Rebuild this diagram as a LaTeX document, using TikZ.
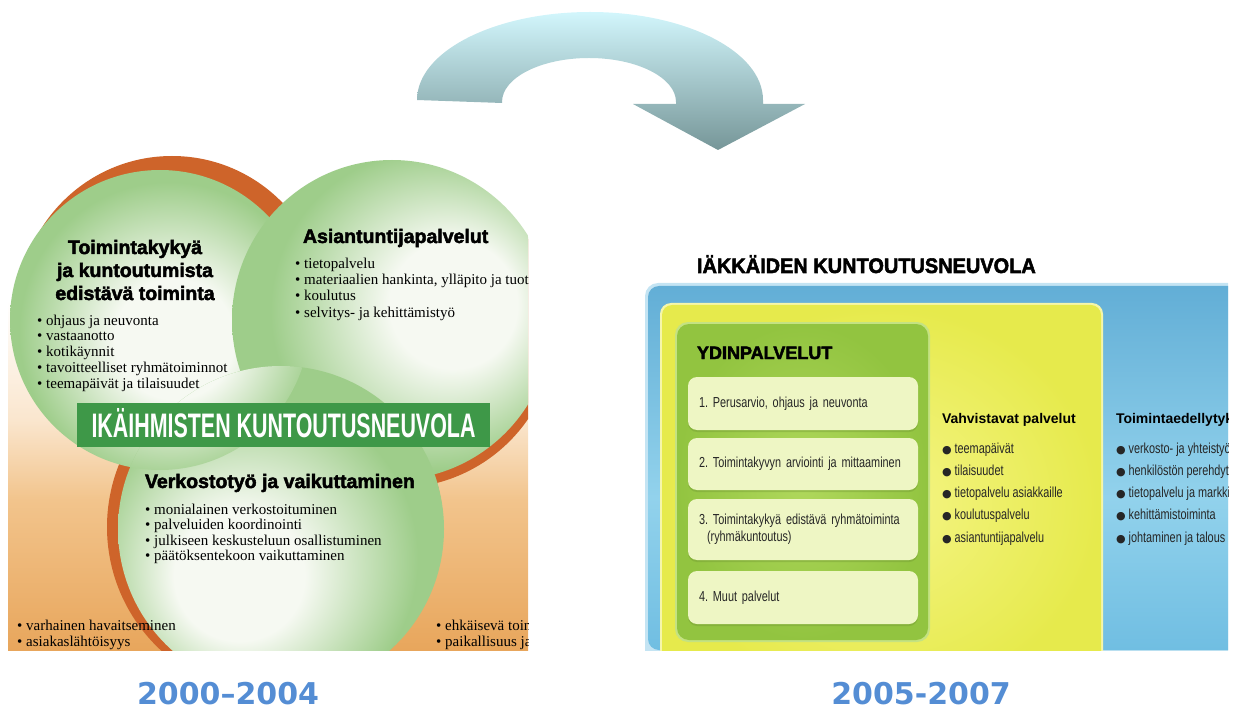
\documentclass[tikz,border=0pt]{standalone}
\usepackage{fontspec}
\setmainfont{Liberation Serif}
\newfontfamily\headsans{Liberation Sans}
\newfontfamily\blacksans[FakeBold=2.4]{Liberation Sans}
\newfontfamily\narrowsans[FakeStretch=0.75]{Liberation Sans}
\newfontfamily\bannersans[FakeStretch=0.63]{Liberation Sans}
\newfontfamily\yearsans{DejaVu Sans}
\usetikzlibrary{positioning}

\definecolor{ringorange}{RGB}{206,100,42}
\definecolor{discgreen}{RGB}{158,205,138}
\definecolor{discpale}{RGB}{246,249,242}
\definecolor{bannergreen}{RGB}{62,152,72}
\definecolor{warmdeep}{RGB}{232,166,92}
\definecolor{warmmid}{RGB}{242,196,140}
\definecolor{warmlight}{RGB}{250,230,206}
\definecolor{arrowtop}{RGB}{210,246,252}
\definecolor{arrowbottom}{RGB}{118,150,152}
\definecolor{yearblue}{RGB}{84,141,212}
\definecolor{panelblueA}{RGB}{98,174,214}
\definecolor{panelblueB}{RGB}{146,210,236}
\definecolor{panelblueC}{RGB}{112,190,226}
\definecolor{panelrim}{RGB}{196,228,243}
\definecolor{yellowedge}{RGB}{230,234,76}
\definecolor{yellowcore}{RGB}{245,245,135}
\definecolor{yellowrim}{RGB}{246,246,170}
\definecolor{coregreen}{RGB}{146,196,64}
\definecolor{coregreenlight}{RGB}{176,216,92}
\definecolor{greenrim}{RGB}{196,226,130}
\definecolor{itempale}{RGB}{238,246,196}

% path box maps onto 25bp..75bp of each shading
\pgfdeclareverticalshading{panelwarm}{100bp}{color(0bp)=(warmdeep); color(25bp)=(warmdeep);
  color(40bp)=(warmmid); color(48bp)=(warmlight); color(60bp)=(white); color(100bp)=(white)}
\pgfdeclareverticalshading{panelblue}{100bp}{color(0bp)=(panelblueC); color(25bp)=(panelblueC);
  color(46bp)=(panelblueB); color(75bp)=(panelblueA); color(100bp)=(panelblueA)}
\pgfdeclareradialshading{discA}{\pgfpoint{3bp}{-4bp}}{color(0bp)=(discpale); color(10bp)=(discpale);
  color(25bp)=(discgreen); color(50bp)=(discgreen)}
\pgfdeclareradialshading{discB}{\pgfpoint{12bp}{3bp}}{color(0bp)=(discpale); color(10bp)=(discpale);
  color(25bp)=(discgreen); color(50bp)=(discgreen)}
\pgfdeclareradialshading{discC}{\pgfpoint{-8bp}{-9bp}}{color(0bp)=(discpale); color(10bp)=(discpale);
  color(25bp)=(discgreen); color(50bp)=(discgreen)}

\newcommand{\listdot}{{\yearsans\fontsize{11}{11}\selectfont ●}\hspace{3pt}}
\newcommand{\narrowtext}{\narrowsans\fontsize{14.5}{17}\selectfont\spaceskip=3pt plus 1pt minus 1pt\relax}

\begin{document}
\frenchspacing
\begin{tikzpicture}[x=1pt,y=-1pt,
    every node/.style={inner sep=0pt,outer sep=0pt},
    disc head/.style={font=\blacksans\bfseries\fontsize{19.5}{22}\selectfont},
    disc item/.style={anchor=base west,font=\fontsize{15}{16}\selectfont},
    core item/.style={fill=itempale,rounded corners=9pt,anchor=north west,
        preaction={fill=coregreen!75!black,opacity=0.35,transform canvas={yshift=-2pt}},
        minimum width=230pt,minimum height=53pt,text width=208pt,inner xsep=11pt,
        align=left,text=black!85,font=\narrowtext},
    side head/.style={anchor=base west,font=\headsans\bfseries\fontsize{14}{16}\selectfont},
    side item/.style={anchor=base west,text=black!85,font=\narrowtext},
    year label/.style={font=\yearsans\bfseries\fontsize{30}{30}\selectfont,text=yearblue}]
\useasboundingbox (0,0) rectangle (1233,708);

% curved arrow on top
\shade[top color=arrowtop,bottom color=arrowbottom]
  (417,100) arc[start angle=180,end angle=360,x radius=173,y radius=88]
  -- (763,104) -- (805,104) -- (718,150) -- (633,104) -- (676,104)
  -- (676,102) arc[start angle=360,end angle=180,x radius=87,y radius=44]
  -- (502,103) -- cycle;

% old model: three discs
\begin{scope}
  \clip (8,150) rectangle (528,650);
  \shade[shading=panelwarm] (8,150) rectangle (528,650);
  \fill[ringorange] (172,310) circle[radius=154];
  \fill[ringorange] (397,329) circle[radius=159];
  \fill[ringorange] (275,527) circle[radius=168];
  \shade[shading=discA] (160,320) circle[radius=150];
  \shade[shading=discB] (392,320) circle[radius=160];
  \shade[shading=discC] (281,529) circle[radius=163];
  \begin{scope}
    \clip (281,529) circle[radius=163];
    \shade[shading=discA] (160,320) circle[radius=150];
  \end{scope}

  \foreach \ln [count=\i] in {Toimintakykyä,ja kuntoutumista,edistävä toiminta}
    \node[disc head,anchor=base] (toimHead-\i) at (135,{254+23*(\i-1)}) {\ln};
  \foreach \txt [count=\i] in {ohjaus ja neuvonta,vastaanotto,kotikäynnit,
      tavoitteelliset ryhmätoiminnot,teemapäivät ja tilaisuudet}
    \node[disc item] (toimItem-\i) at (37,{325+15.8*(\i-1)}) {•\hspace{4pt}\txt};

  \node[disc head,anchor=base west] (expertHead) at (303,243) {Asiantuntijapalvelut};
  \foreach \txt [count=\i] in {tietopalvelu,{materiaalien hankinta, ylläpito ja tuotanto},
      koulutus,selvitys- ja kehittämistyö}
    \node[disc item] (expertItem-\i) at (295,{269+16*(\i-1)}) {•\hspace{4pt}\txt};

  \node[disc head,anchor=base west] (netHead) at (145,488) {Verkostotyö ja vaikuttaminen};
  \foreach \txt [count=\i] in {monialainen verkostoituminen,palveluiden koordinointi,
      julkiseen keskusteluun osallistuminen,päätöksentekoon vaikuttaminen}
    \node[disc item] (netItem-\i) at (145,{514+15.6*(\i-1)}) {•\hspace{4pt}\txt};

  \node[disc item] (leftFoot-1) at (17,630) {•\hspace{4pt}varhainen havaitseminen};
  \node[disc item] (leftFoot-2) at (17,646) {•\hspace{4pt}asiakaslähtöisyys};
  \node[disc item] (rightFoot-1) at (436,630) {•\hspace{4pt}ehkäisevä toiminta};
  \node[disc item] (rightFoot-2) at (436,646) {•\hspace{4pt}paikallisuus ja};

  \node[fill=bannergreen,minimum width=413pt,minimum height=44pt,text height=24pt,
        text depth=0pt,text=white,font=\bannersans\bfseries\fontsize{34}{34}\selectfont]
    (banner) at (283.5,425) {IKÄIHMISTEN KUNTOUTUSNEUVOLA};
\end{scope}

% new model: nested boxes
\node[anchor=base west,font=\blacksans\bfseries\fontsize{21}{21}\selectfont] (newTitle)
  at (697,273) {\scalebox{0.95}[1]{IÄKKÄIDEN KUNTOUTUSNEUVOLA}};
\begin{scope}
  \clip (640,278) rectangle (1228,650);
  \fill[panelrim,rounded corners=13pt] (645,283) rectangle (1260,700);
  \shade[shading=panelblue,rounded corners=11pt] (648,286) rectangle (1260,650);
  \fill[yellowrim,rounded corners=11pt] (660,303) rectangle (1103,700);
  \shade[inner color=yellowcore,outer color=yellowedge,rounded corners=10pt] (662,305) rectangle (1101,700);
  \fill[greenrim,rounded corners=13pt] (675,322) rectangle (930,642);
  \shade[inner color=coregreenlight,outer color=coregreen,rounded corners=12pt] (677,324) rectangle (928,640);

  \node[anchor=base west,font=\blacksans\bfseries\fontsize{18}{18}\selectfont] (coreHead)
    at (697,359) {YDINPALVELUT};
  \node[core item] (core-1) at (688,377) {1. Perusarvio, ohjaus ja neuvonta};
  \node[core item,minimum height=52pt] (core-2) at (688,438) {2. Toimintakyvyn arviointi ja mittaaminen};
  \node[core item,minimum height=61pt] (core-3) at (688,499)
    {3. Toimintakykyä edistävä ryhmätoiminta\\\hspace*{8pt}(ryhmäkuntoutus)};
  \node[core item] (core-4) at (688,571) {4. Muut palvelut};

  \node[side head] (supportHead) at (942,423) {Vahvistavat palvelut};
  \foreach \txt [count=\i] in {teemapäivät,tilaisuudet,tietopalvelu asiakkaille,
      koulutuspalvelu,asiantuntijapalvelu}
    \node[side item] (supportItem-\i) at (942,{453+22.3*(\i-1)}) {\listdot\txt};

  \node[side head] (baseHead) at (1116,423) {Toimintaedellytykset};
  \foreach \txt [count=\i] in {verkosto- ja yhteistyö,henkilöstön perehdytys,
      tietopalvelu ja markkinointi,kehittämistoiminta,johtaminen ja talous}
    \node[side item] (baseItem-\i) at (1116,{453+22.3*(\i-1)}) {\listdot\txt};
\end{scope}

\node[year label] (yearOld) at (228,694) {2000–2004};
\node[year label] (yearNew) at (921,694) {2005-2007};
\end{tikzpicture}
\end{document}
